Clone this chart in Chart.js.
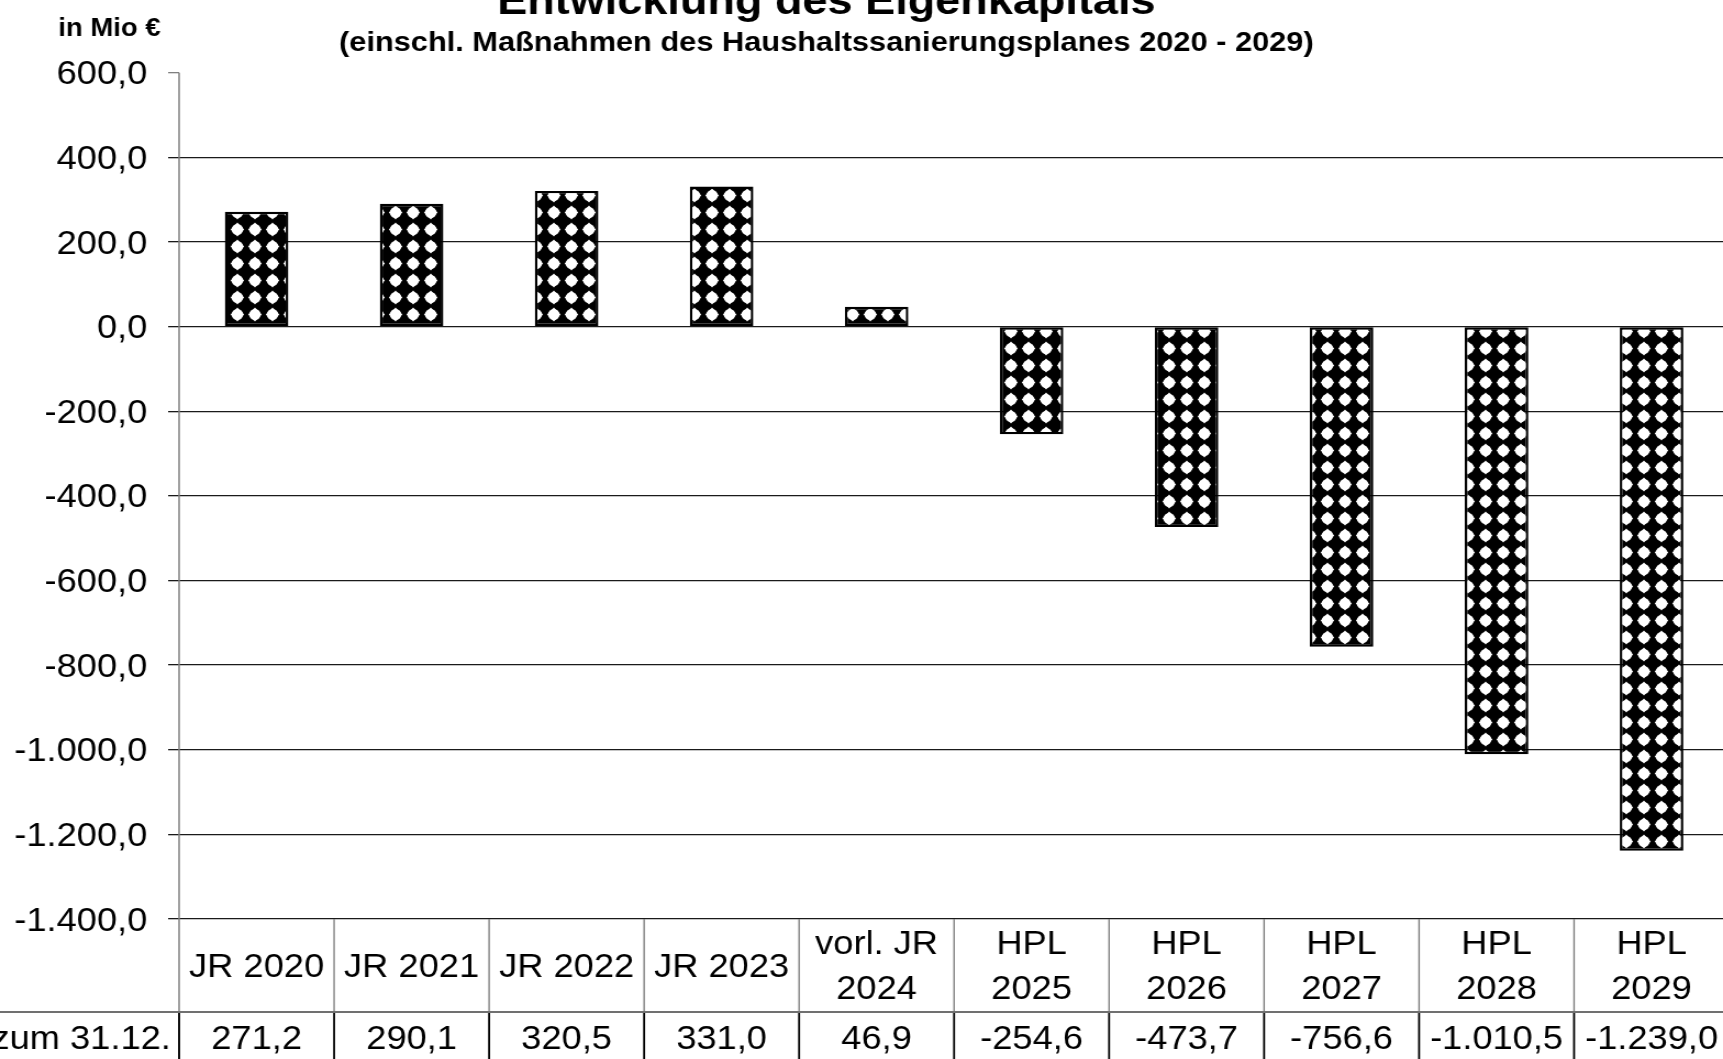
<!DOCTYPE html>
<html><head><meta charset="utf-8">
<script src="https://cdn.jsdelivr.net/npm/chart.js@4/dist/chart.umd.min.js"></script>
<style>
html,body{margin:0;padding:0;background:#fff;overflow:hidden;width:1723px;height:1059px;}
#wrap{position:absolute;left:0;top:0;width:1590px;height:1059px;transform:scaleX(1.098852);transform-origin:0 0;}
canvas{display:block;}
</style></head><body>
<div id="wrap"><canvas id="c" width="1590" height="1059"></canvas></div>
<script>
const titleText = 'Entwicklung des Eigenkapitals';
const subtitleText = '(einschl. Maßnahmen des Haushaltssanierungsplanes 2020 - 2029)';
const unitText = 'in Mio €';
const rowLabel = 'zum 31.12.';
const categories = ['JR 2020','JR 2021','JR 2022','JR 2023',['vorl. JR','2024'],['HPL','2025'],['HPL','2026'],['HPL','2027'],['HPL','2028'],['HPL','2029']];
const equity = [271.2, 290.1, 320.5, 331.0, 46.9, -254.6, -473.7, -756.6, -1010.5, -1239.0];
const yMin = -1400, yMax = 600, yStep = 200;

const FONT = '"Liberation Sans", Arial, sans-serif';

function fmt(v){
  const s = Math.abs(v).toFixed(1).split('.');
  const intPart = s[0].replace(/\B(?=(\d{3})+(?!\d))/g, '.');
  return (v < 0 ? '-' : '') + intPart + ',' + s[1];
}

function makePattern(){
  const t = document.createElement('canvas');
  t.width = 16; t.height = 17;
  const g = t.getContext('2d');
  g.fillStyle = '#000'; g.fillRect(0, 0, 16, 17);
  g.fillStyle = '#fff';
  const cx = 8, cy = 8.5;
  g.beginPath(); g.moveTo(cx, cy - 6.9); g.lineTo(cx + 6.2, cy); g.lineTo(cx, cy + 6.9); g.lineTo(cx - 6.2, cy); g.closePath(); g.fill();
  g.beginPath(); g.ellipse(cx, cy, 5.1, 5.5, 0, 0, Math.PI * 2); g.fill();
  return document.getElementById('c').getContext('2d').createPattern(t, 'repeat');
}

const decorPlugin = {
  id: 'decor',
  afterDraw(chart){
    const ctx = chart.ctx;
    const area = chart.chartArea;
    const xs = chart.scales.x;
    const n = categories.length;
    const cw = (area.right - area.left) / n;
    const headerBottom = 1012;
    const H = chart.height;
    ctx.save();
    // titles
    ctx.fillStyle = '#000';
    ctx.textAlign = 'center';
    ctx.textBaseline = 'alphabetic';
    ctx.font = 'bold 41px ' + FONT;
    ctx.fillText(titleText, 752, 13.5);
    ctx.font = 'bold 28px ' + FONT;
    ctx.fillText(subtitleText, 752, 51);
    ctx.textAlign = 'left';
    ctx.font = 'bold 25px ' + FONT;
    ctx.fillText(unitText, 53, 36);
    // y axis line
    ctx.strokeStyle = '#808080';
    ctx.lineWidth = 1.5;
    ctx.beginPath(); ctx.moveTo(area.left, area.top); ctx.lineTo(area.left, H); ctx.stroke();
    // header verticals
    ctx.strokeStyle = '#808080';
    ctx.lineWidth = 1.4;
    for (let k = 1; k <= n; k++) {
      const x = area.left + k * cw;
      ctx.beginPath(); ctx.moveTo(x, area.bottom); ctx.lineTo(x, headerBottom); ctx.stroke();
    }
    // row separator
    ctx.strokeStyle = '#707070';
    ctx.lineWidth = 2;
    ctx.beginPath(); ctx.moveTo(0, headerBottom); ctx.lineTo(chart.width, headerBottom); ctx.stroke();
    // value row verticals
    ctx.strokeStyle = '#000';
    ctx.lineWidth = 1.8;
    for (let k = 0; k <= n; k++) {
      const x = area.left + k * cw;
      ctx.beginPath(); ctx.moveTo(x, headerBottom + 1); ctx.lineTo(x, H); ctx.stroke();
    }
    // values
    ctx.font = '33px ' + FONT;
    ctx.textBaseline = 'middle';
    ctx.textAlign = 'center';
    for (let i = 0; i < n; i++) {
      ctx.fillText(fmt(equity[i]), xs.getPixelForValue(i), 1040);
    }
    ctx.textAlign = 'right';
    ctx.fillText(rowLabel, 155.5, 1040);
    ctx.restore();
  }
};

new Chart(document.getElementById('c'), {
  type: 'bar',
  data: {
    labels: categories,
    datasets: [{
      data: equity,
      backgroundColor: makePattern(),
      borderColor: '#000',
      borderWidth: 2.4,
      borderSkipped: false,
      barPercentage: 0.41,
      categoryPercentage: 1
    }]
  },
  options: {
    responsive: false,
    animation: false,
    devicePixelRatio: 1,
    layout: { padding: { top: 72.7, left: 0, right: 16.5, bottom: 0 } },
    plugins: { legend: { display: false }, title: { display: false }, tooltip: { enabled: false } },
    scales: {
      x: {
        grid: { display: false, drawTicks: false },
        border: { display: false },
        ticks: {
          color: '#000',
          font: { family: FONT, size: 33, lineHeight: 1.36 },
          padding: 26,
          crossAlign: 'center',
          maxRotation: 0,
          minRotation: 0,
          autoSkip: false
        },
        afterFit(scale){ scale.height = 140; }
      },
      y: {
        min: yMin, max: yMax,
        border: { display: false },
        grid: {
          color: (c) => (c.tick && c.tick.value === yMax) ? 'rgba(0,0,0,0)' : '#1a1a1a',
          tickColor: (c) => (c.tick && c.tick.value === yMax) ? '#808080' : '#1a1a1a',
          lineWidth: 1.3,
          tickLength: 10
        },
        ticks: {
          stepSize: yStep,
          color: '#000',
          font: { family: FONT, size: 33 },
          padding: 19,
          labelOffset: 2.5,
          callback: (v) => fmt(v)
        },
        afterFit(scale){ scale.width = 163; }
      }
    }
  },
  plugins: [decorPlugin]
});
</script>
</body></html>
